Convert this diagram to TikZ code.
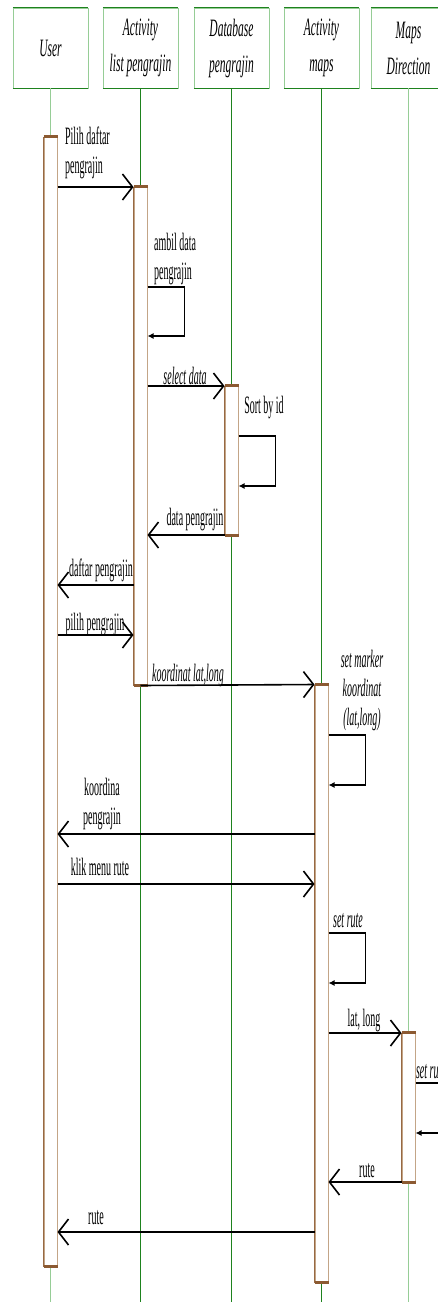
\documentclass[tikz,border=0pt]{standalone}
\usepackage{fontspec}
\setmainfont{Liberation Serif}
\usetikzlibrary{arrows.meta}
\tikzset{>={Straight Barb[length=10pt,width=26pt]}}
\definecolor{mydarkgreen}{RGB}{30,130,30}
\definecolor{mylightgreen}{RGB}{150,205,150}
\definecolor{mybrown}{RGB}{140,90,50}
\definecolor{mytan}{RGB}{195,165,135}

\begin{document}
\begin{tikzpicture}[x=1pt,y=-1pt,
  headbox/.style={draw=mylightgreen,fill=white,line width=0.8pt,
    minimum width=163pt,minimum height=80pt,inner sep=0pt,align=center,
    font=\fontsize{25}{36}\selectfont\itshape,xscale=0.46},
  headedge/.style={draw=mydarkgreen,line width=1.4pt},
  actbox/.style={draw=mytan,fill=white,line width=1pt,
    minimum width=13pt,inner sep=0pt},
  actedge/.style={draw=mybrown,line width=2.2pt},
  lbl/.style={font=\fontsize{25}{29}\selectfont,xscale=0.4,inner sep=0pt,align=center},
  ilbl/.style={lbl,font=\fontsize{25}{29}\selectfont\itshape},
  msg/.style={->,line width=1.6pt},
  selfcall/.style={-{Latex[length=6pt,width=6pt]},line width=1.3pt}]

  \useasboundingbox (0,0) rectangle (438,1302);
  \clip (0,0) rectangle (438,1302);

  % heads and lifelines
  \foreach \n/\x/\c/\txt in {user/50.5/mylightgreen/User,
      list/140.5/mydarkgreen/{Activity\\list pengrajin},
      db/231.5/mydarkgreen/{Database\\pengrajin},
      maps/321.5/mydarkgreen/{Activity\\maps},
      dir/408.5/mylightgreen/{Maps\\Direction}}{
    \node[headbox] (\n) at (\x,48) {\txt};
    \draw[headedge] (\n.north west) -- (\n.north east);
    \draw[headedge] (\n.south west) -- (\n.south east);
    \draw[\c,line width=1pt] (\n.south) -- ++(0,1214);
  }

  % activation bars
  \foreach \n/\x/\t/\b in {userbar/50.5/137/1266, listbar/140.5/187/685,
      dbbar/231.5/386/535, mapsbar/321.5/685/1282, dirbar/408.5/1033/1182}{
    \pgfmathsetmacro\h{\b-\t}
    \node[actbox,minimum height=\h pt] (\n) at (\x,{(\t+\b)/2}) {};
    \draw[mybrown!80!mytan,line width=1pt] (\n.north west) -- (\n.south west);
    \draw[actedge] (\n.north west) -- (\n.north east);
    \draw[actedge] (\n.south west) -- (\n.south east);
  }

  % labels
  \node[lbl,align=left,anchor=west] (pilihdaftar) at (65,153) {Pilih daftar\\pengrajin};
  \node[lbl,align=left,anchor=west] (ambildata) at (154,259) {ambil data\\pengrajin};
  \node[ilbl] (selectdata) at (185,376) {select data};
  \node[lbl] (sortid) at (264,408) {Sort by id};
  \node[lbl] (datapeng) at (195,520) {data pengrajin};
  \node[lbl] (daftarpeng) at (101,570) {daftar pengrajin};
  \node[lbl] (pilihpeng) at (95,625) {pilih pengrajin};
  \node[ilbl] (koorlatlong) at (188,675) {koordinat lat,long};
  \node[ilbl] (setmarker) at (362,690) {set marker\\koordinat\\(lat,long)};
  \node[lbl] (koorpeng) at (102,804) {koordina\\pengrajin};
  \node[lbl] (klikrute) at (100,867) {klik menu rute};
  \node[ilbl] (setrute) at (348,921) {set rute};
  \node[lbl] (latlong) at (364,1021) {lat, long};
  \node[ilbl,anchor=west] (setrutedir) at (416,1072) {set rute};
  \node[lbl] (rutedir) at (367,1171) {rute};
  \node[lbl] (ruteuser) at (96,1218) {rute};

  % messages
  \draw[msg] (userbar.east |- 0,187) -- (listbar.west |- 0,187);
  \draw[selfcall] (listbar.east |- 0,287) -- ++(37,0) -- ++(0,49) -- ++(-37,0);
  \draw[msg] (listbar.east |- 0,386) -- (dbbar.west |- 0,386);
  \draw[selfcall] (dbbar.east |- 0,436) -- ++(37,0) -- ++(0,50) -- ++(-37,0);
  \draw[msg] (dbbar.west |- 0,535) -- (listbar.east |- 0,535);
  \draw[msg] (listbar.west |- 0,585) -- (userbar.east |- 0,585);
  \draw[msg] (userbar.east |- 0,635) -- (listbar.west |- 0,635);
  \draw[msg] (listbar.south) -- (mapsbar.north west);
  \draw[selfcall] (mapsbar.east |- 0,735) -- ++(37,0) -- ++(0,50) -- ++(-37,0);
  \draw[msg] (mapsbar.west |- 0,834) -- (userbar.east |- 0,834);
  \draw[msg] (userbar.east |- 0,884) -- (mapsbar.west |- 0,884);
  \draw[selfcall] (mapsbar.east |- 0,933) -- ++(37,0) -- ++(0,50) -- ++(-37,0);
  \draw[msg] (mapsbar.east |- 0,1033) -- (dirbar.west |- 0,1033);
  \draw[selfcall] (dirbar.east |- 0,1083) -- ++(37,0) -- ++(0,50) -- ++(-37,0);
  \draw[msg] (dirbar.west |- 0,1182) -- (mapsbar.east |- 0,1182);
  \draw[msg] (mapsbar.west |- 0,1232) -- (userbar.east |- 0,1232);

\end{tikzpicture}
\end{document}
